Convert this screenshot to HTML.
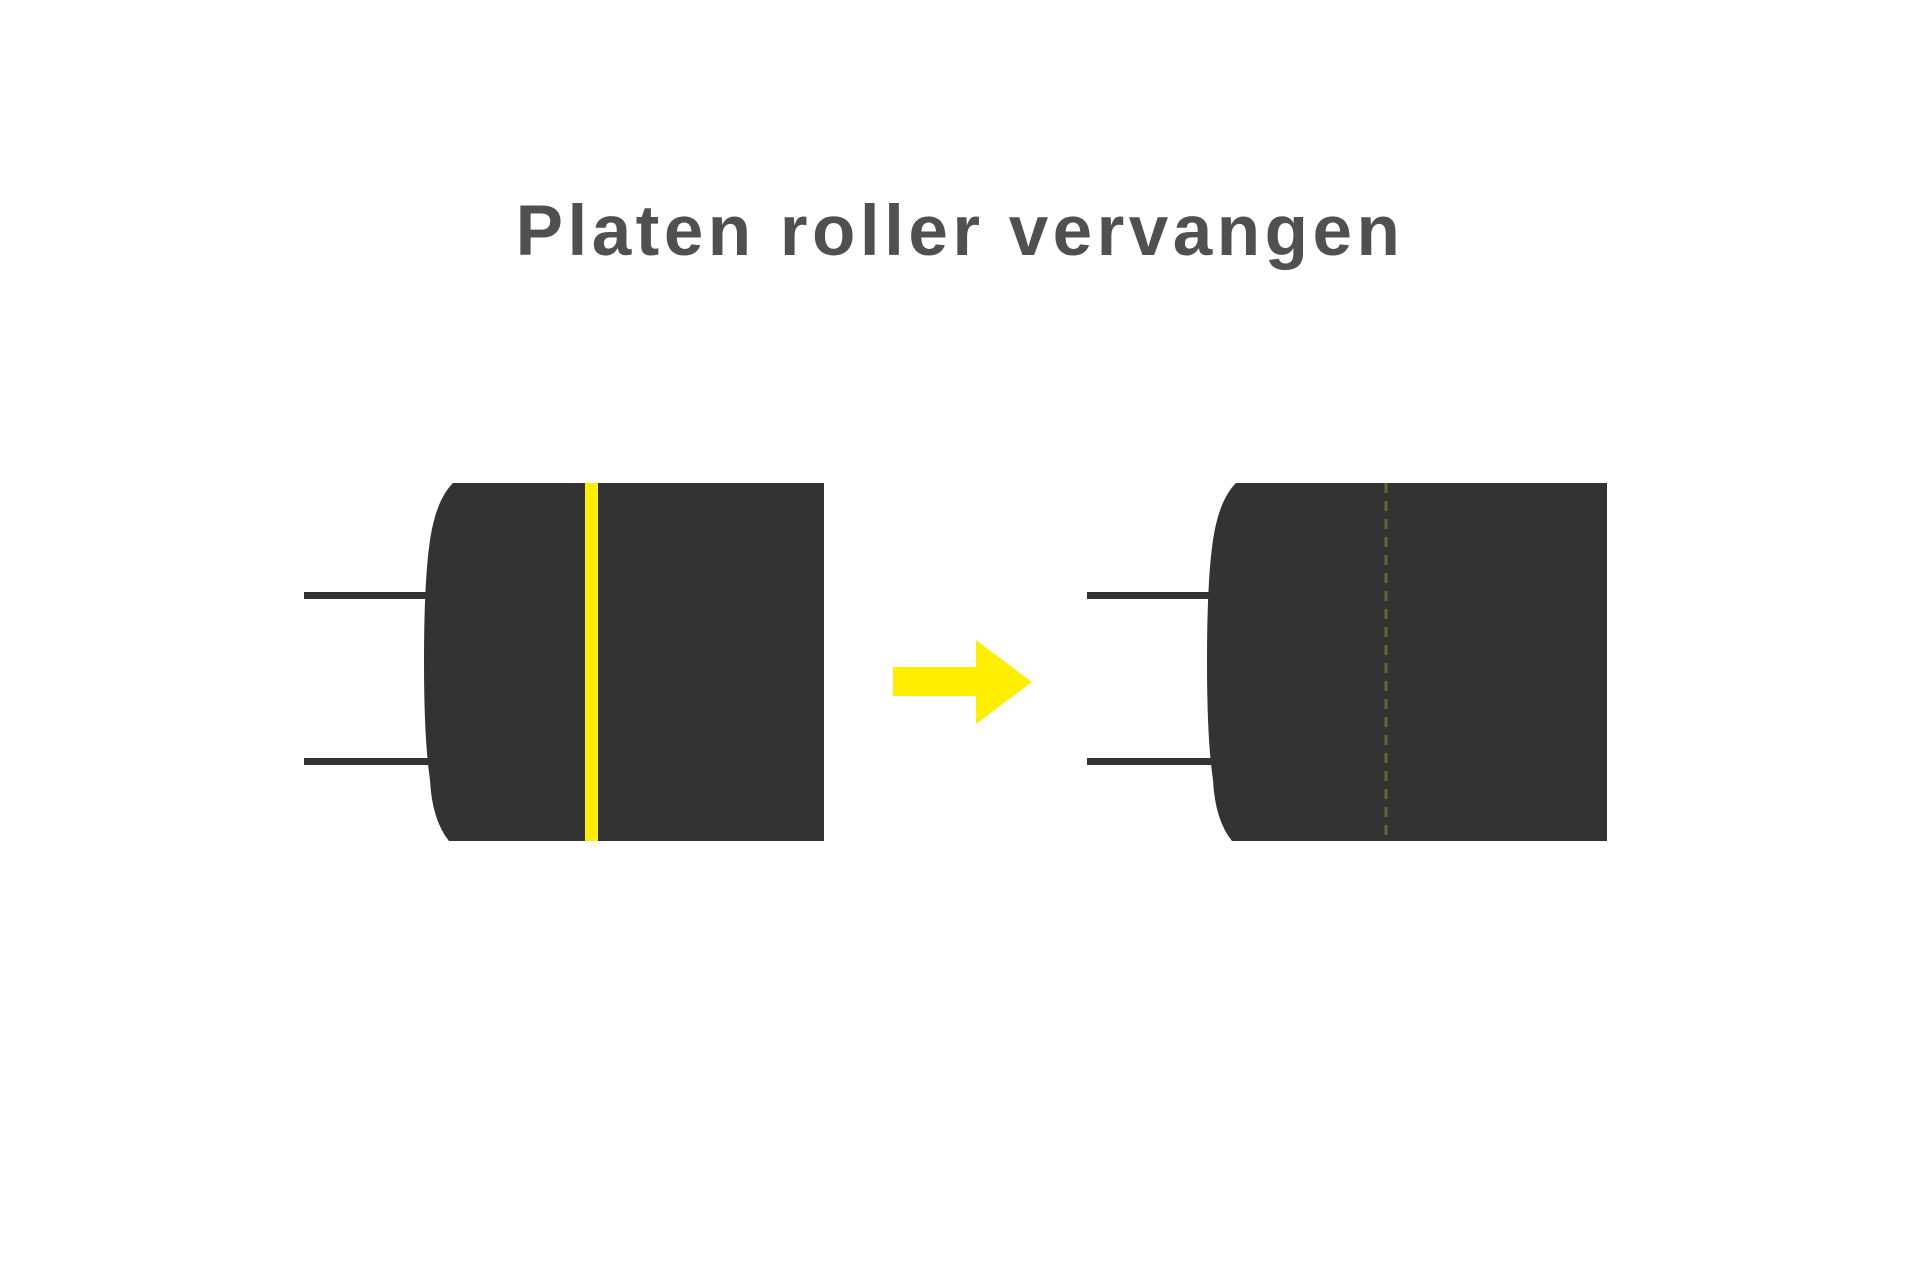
<!DOCTYPE html>
<html><head><meta charset="utf-8"><style>
html,body{margin:0;padding:0;background:#fff;width:1920px;height:1280px;overflow:hidden}
.t{position:absolute;left:0;width:1920px;top:191px;text-align:center;font-family:"Liberation Sans",sans-serif;font-weight:bold;font-size:71px;letter-spacing:4.5px;color:#505050}
</style></head><body>
<div class="t">Platen roller vervangen</div>
<svg width="1920" height="1280" style="position:absolute;left:0;top:0">
<g id="r1" fill="#333">
<rect x="304" y="592" width="124" height="7"/>
<rect x="304" y="758" width="124" height="7"/>
<path d="M453 483 L824 483 L824 841 L449 841 Q432 820 430 780 Q424 740 424 662 Q424 580 430 540 Q436 500 453 483 Z"/>
</g>
<rect x="585" y="483" width="13" height="358" fill="#ffee00"/>
<polygon points="893,667 976,667 976,640 1032,682 976,724 976,696 893,696" fill="#ffee00"/>
<g transform="translate(783,0)" fill="#333">
<rect x="304" y="592" width="124" height="7"/>
<rect x="304" y="758" width="124" height="7"/>
<path d="M453 483 L824 483 L824 841 L449 841 Q432 820 430 780 Q424 740 424 662 Q424 580 430 540 Q436 500 453 483 Z"/>
</g>
<line x1="1386" y1="483" x2="1386" y2="841" stroke="#6b6330" stroke-width="3" stroke-dasharray="10,8"/>
</svg>
</body></html>
